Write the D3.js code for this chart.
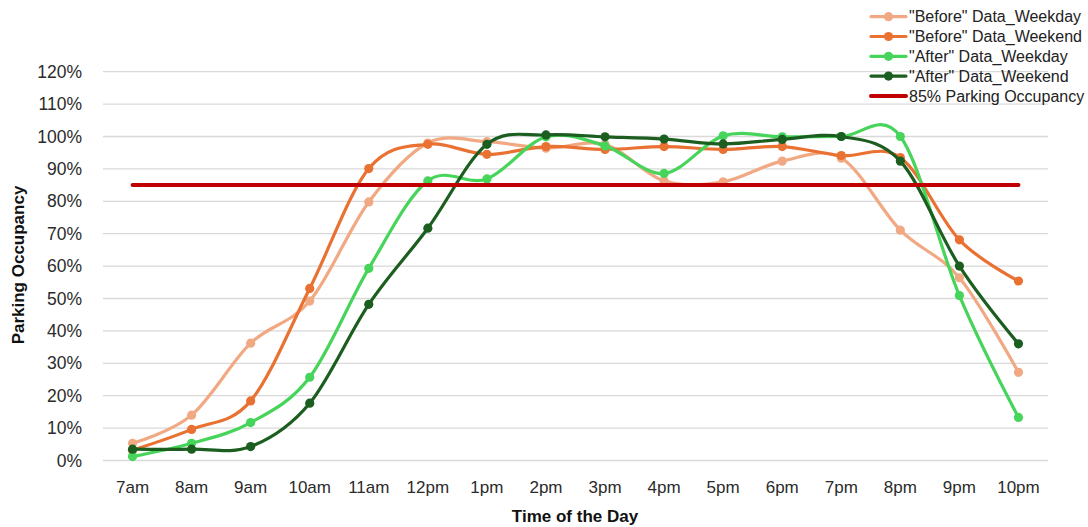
<!DOCTYPE html>
<html>
<head>
<meta charset="utf-8">
<script src="https://cdn.jsdelivr.net/npm/d3@7"></script>
<style>
  html, body { margin: 0; padding: 0; background: #fff; }
  svg { display: block; font-family: "Liberation Sans", Arial, sans-serif; }
</style>
</head>
<body>
<div id="chart"></div>
<script>
// --- DATA ---
const hours = ["7am", "8am", "9am", "10am", "11am", "12pm", "1pm", "2pm", "3pm", "4pm", "5pm", "6pm", "7pm", "8pm", "9pm", "10pm"];
const yTicks = [0, 0.1, 0.2, 0.3, 0.4, 0.5, 0.6, 0.7, 0.8, 0.9, 1.0, 1.1, 1.2];

const beforeWeekday = [0.053, 0.140, 0.362, 0.492, 0.798, 0.980, 0.984, 0.964, 0.975, 0.863, 0.860, 0.924, 0.933, 0.711, 0.564, 0.272];
const beforeWeekend = [0.032, 0.096, 0.184, 0.531, 0.901, 0.976, 0.945, 0.969, 0.960, 0.969, 0.960, 0.969, 0.941, 0.935, 0.681, 0.554];
const afterWeekday  = [0.012, 0.053, 0.117, 0.257, 0.593, 0.863, 0.869, 0.999, 0.971, 0.886, 1.002, 0.999, 1.000, 1.000, 0.509, 0.133];
const afterWeekend  = [0.035, 0.035, 0.043, 0.177, 0.482, 0.717, 0.976, 1.005, 0.999, 0.992, 0.977, 0.991, 1.000, 0.924, 0.600, 0.360];
const targetLevel = 0.85;

const seriesNames = ["\"Before\" Data_Weekday", "\"Before\" Data_Weekend", "\"After\" Data_Weekday", "\"After\" Data_Weekend"];
const seriesColors = ["#F1A983", "#E97132", "#47D45A", "#1B5E20"];
const targetName = "85% Parking Occupancy";
const targetColor = "#C00000";

const series = [beforeWeekday, beforeWeekend, afterWeekday, afterWeekend].map((values, i) => ({
    name: seriesNames[i], color: seriesColors[i], values
}));

// --- LAYOUT ---
const W = 1088, H = 527;
const svg = d3.select("#chart").append("svg").attr("width", W).attr("height", H);

const x = d3.scaleBand().domain(hours).range([103, 1048]);
const y = d3.scaleLinear().domain([0, 1.2]).range([460.5, 71.7]);
const cx = d => x(d) + x.bandwidth() / 2;

// gridlines
svg.append("g").selectAll("line").data(yTicks).join("line")
    .attr("x1", 103).attr("x2", 1048)
    .attr("y1", d => y(d)).attr("y2", d => y(d))
    .attr("stroke", "#d9d9d9").attr("stroke-width", 1.3);

// y axis labels
svg.append("g").selectAll("text").data(yTicks).join("text")
    .attr("x", 82).attr("y", d => y(d)).attr("dy", "0.35em")
    .attr("text-anchor", "end").attr("font-size", 17.5).attr("fill", "#2b2b2b")
    .text(d => d3.format(".0%")(d));

// x axis labels
svg.append("g").selectAll("text").data(hours).join("text")
    .attr("x", d => cx(d)).attr("y", 487).attr("dy", "0.35em")
    .attr("text-anchor", "middle").attr("font-size", 17).attr("fill", "#2b2b2b")
    .text(d => d);

// axis titles
svg.append("text").attr("x", 575).attr("y", 516).attr("dy", "0.35em")
    .attr("text-anchor", "middle").attr("font-size", 17).attr("font-weight", "bold").attr("fill", "#111")
    .text("Time of the Day");
svg.append("text").attr("transform", "translate(18,265) rotate(-90)").attr("dy", "0.35em")
    .attr("text-anchor", "middle").attr("font-size", 17).attr("font-weight", "bold").attr("fill", "#111")
    .text("Parking Occupancy");

// series lines + markers
const line = d3.line()
    .x((d, i) => cx(hours[i]))
    .y(d => y(d))
    .curve(d3.curveCatmullRom.alpha(0));

series.forEach(s => {
    const g = svg.append("g");
    g.append("path").datum(s.values)
        .attr("d", line).attr("fill", "none")
        .attr("stroke", s.color).attr("stroke-width", 3.2)
        .attr("stroke-linejoin", "round").attr("stroke-linecap", "round");
    g.selectAll("circle").data(s.values).join("circle")
        .attr("cx", (d, i) => cx(hours[i])).attr("cy", d => y(d))
        .attr("r", 4.6).attr("fill", s.color);
});

// 85% line
svg.append("line")
    .attr("x1", cx(hours[0])).attr("x2", cx(hours[hours.length - 1]))
    .attr("y1", y(targetLevel)).attr("y2", y(targetLevel))
    .attr("stroke", targetColor).attr("stroke-width", 4).attr("stroke-linecap", "round");

// --- LEGEND ---
const legendItems = series.map(s => ({ name: s.name, color: s.color, marker: true }))
    .concat([{ name: targetName, color: targetColor, marker: false }]);

svg.append("line").attr("x1", 842).attr("x2", 1047).attr("y1", 104.5).attr("y2", 104.5)
    .attr("stroke", "#e6e6e6").attr("stroke-width", 1);

const legend = svg.append("g").selectAll("g").data(legendItems).join("g")
    .attr("transform", (d, i) => `translate(0,${16.7 + i * 19.8})`);
legend.append("line").attr("x1", 871).attr("x2", 906).attr("y1", 0).attr("y2", 0)
    .attr("stroke", d => d.color).attr("stroke-width", d => d.marker ? 3.2 : 4)
    .attr("stroke-linecap", "round");
legend.filter(d => d.marker).append("circle").attr("cx", 888.5).attr("cy", 0).attr("r", 4.6)
    .attr("fill", d => d.color);
legend.append("text").attr("x", 909).attr("y", 0).attr("dy", "0.35em")
    .attr("font-size", 16).attr("fill", "#222")
    .text(d => d.name);
</script>
</body>
</html>
